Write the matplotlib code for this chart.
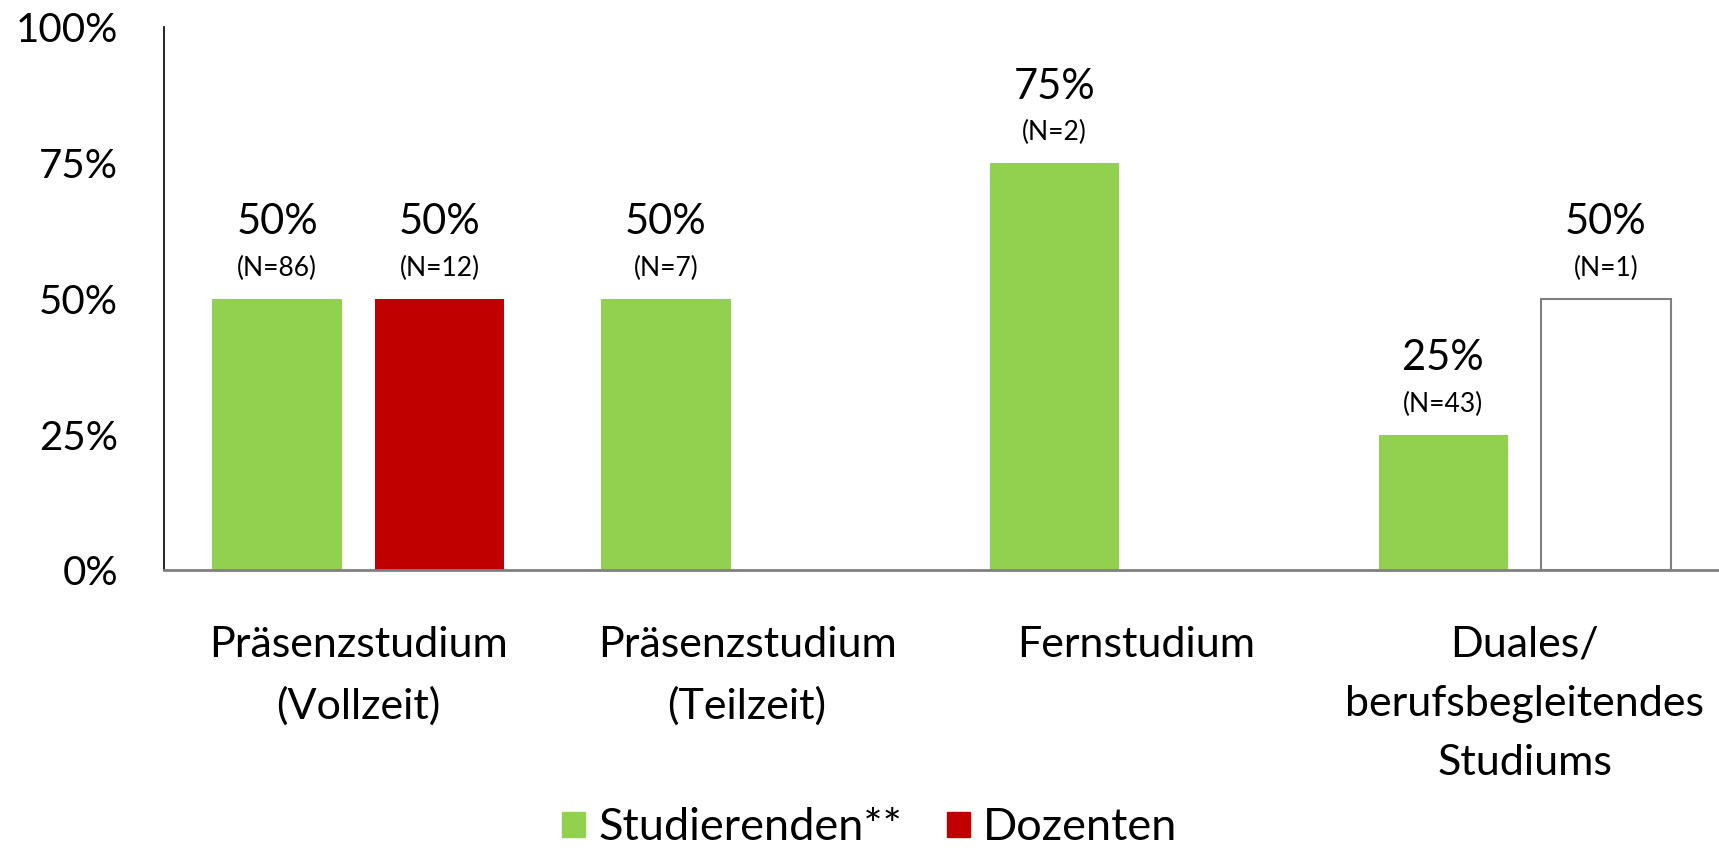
import numpy as np
import matplotlib.pyplot as plt
from matplotlib.patches import Patch

plt.rcParams['font.family'] = ['Lato', 'DejaVu Sans']

categories = ['Präsenzstudium\n(Vollzeit)', 'Präsenzstudium\n(Teilzeit)',
              'Fernstudium', 'Duales/\nberufsbegleitendes\nStudiums']
studierende = [0.50, 0.50, 0.75, 0.25]
studierende_n = [86, 7, 2, 43]
dozenten = [0.50, np.nan, np.nan, 0.50]
dozenten_n = [12, None, None, 1]
# Dozenten bar with very few answers is drawn hollow
dozenten_hollow = [False, False, False, True]

green = '#92D050'
red = '#C00000'

fig = plt.figure(figsize=(17.19, 8.5), dpi=100)
ax = fig.add_axes([0.0954, 0.329, 0.9046, 0.639])

x = np.arange(len(categories))
w = 0.333
off = 0.209

pos_s = x - off
pos_d = x + off
ax.bar(pos_s, studierende, width=w, color=green)

for px, d, h in zip(pos_d, dozenten, dozenten_hollow):
    if np.isnan(d):
        continue
    if h:
        ax.bar(px, d, width=w, color='white', edgecolor='#808080', linewidth=1.5)
    else:
        ax.bar(px, d, width=w, color=red)


def label(px, v, n):
    ax.annotate(f'{v:.0%}', (px, v), xytext=(0, 55), textcoords='offset points',
                ha='center', va='center', fontsize=30)
    ax.annotate(f'(N={n})', (px, v), xytext=(0, 22), textcoords='offset points',
                ha='center', va='center', fontsize=19)


for px, v, n in zip(pos_s, studierende, studierende_n):
    label(px, v, n)
for px, d, n in zip(pos_d, dozenten, dozenten_n):
    if not np.isnan(d):
        label(px, d, n)

ax.set_xlim(-0.5, 3.5)
ax.set_ylim(0, 1)
ax.set_yticks([0, 0.25, 0.5, 0.75, 1.0])
ax.set_yticklabels(['0%', '25%', '50%', '75%', '100%'], fontsize=29)
ax.set_xticks(x)
ax.set_xticklabels(categories, fontsize=31, linespacing=1.68)
ax.tick_params(axis='both', length=0)
ax.tick_params(axis='y', pad=33)
ax.tick_params(axis='x', pad=40)
for s in ['top', 'right']:
    ax.spines[s].set_visible(False)
ax.spines['left'].set_color('black')
ax.spines['left'].set_linewidth(1.2)
ax.spines['bottom'].set_color('#808080')
ax.spines['bottom'].set_linewidth(2)

handles = [Patch(color=green, label='Studierenden**'), Patch(color=red, label='Dozenten')]
fig.legend(handles=handles, loc='center', bbox_to_anchor=(0.506, 0.026), ncol=2,
           frameon=False, fontsize=32.5, handlelength=0.5, handleheight=0.5,
           handletextpad=0.3, columnspacing=1.0)

fig.savefig('out.png', dpi=100)
